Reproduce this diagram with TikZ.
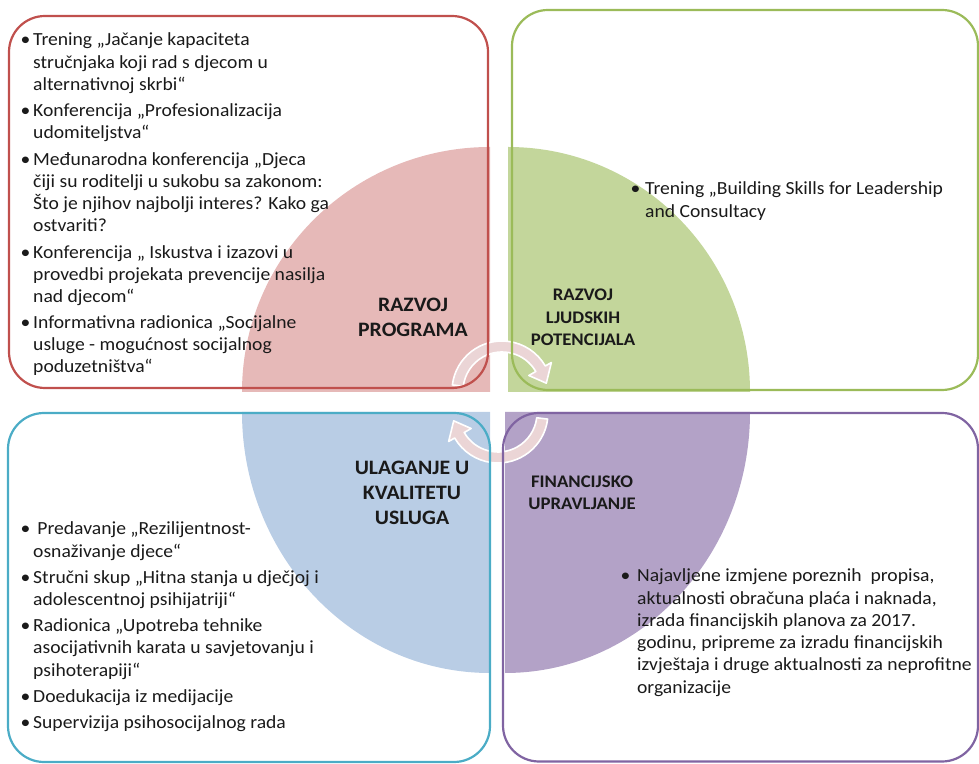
\documentclass[tikz,border=0pt]{standalone}
\usepackage{fontspec}
\usepackage{graphicx}
\setmainfont{Carlito}
\usetikzlibrary{calc}
\definecolor{redLine}{HTML}{C0504D}
\definecolor{greenLine}{HTML}{9BBB59}
\definecolor{blueLine}{HTML}{4BACC6}
\definecolor{purpleLine}{HTML}{8064A2}
\definecolor{redFill}{HTML}{E6B9B8}
\definecolor{greenFill}{HTML}{C3D69B}
\definecolor{blueFill}{HTML}{B9CDE5}
\definecolor{purpleFill}{HTML}{B3A2C7}
\definecolor{arrowFill}{HTML}{EBD5D6}
\definecolor{txt}{HTML}{1A1A1A}
\newlength\bulletw
\newcommand{\itm}{\makebox[\bulletw][l]{•}}
\newcommand{\wide}[1]{\scalebox{1.06}[1]{#1}}
\begin{document}
\begin{tikzpicture}[x=1pt,y=1pt,
  boxframe/.style={draw, line width=2.2pt, rounded corners=36pt, inner sep=0pt, outer sep=0pt},
  listtext/.style={anchor=base west, inner sep=0pt, text=txt, font=\fontsize{18.5}{22.1}\selectfont},
  headbig/.style={anchor=base, inner sep=0pt, text=txt, font=\bfseries\fontsize{20.5}{25}\selectfont},
  headsmall/.style={anchor=base, inner sep=0pt, text=txt, font=\bfseries\fontsize{17.7}{22.5}\selectfont},
  arrowband/.style={fill=arrowFill, draw=white, line width=1.6pt, line join=round},
  circarrow/.pic={\path[arrowband] (173:50) arc[start angle=173,end angle=30,radius=50] -- (30:57) -- (10:45) -- (30:31) -- (30:39) arc[start angle=30,end angle=173,radius=39] -- cycle;}
]
\useasboundingbox (0,0) rectangle (979,763);
% quarter segments
\fill[redFill] (490,371) -- (242,371) arc[start angle=180,end angle=90,x radius=248,y radius=245] -- cycle;
\fill[greenFill] (508,371) -- (750,371) arc[start angle=0,end angle=90,x radius=242,y radius=245] -- cycle;
\fill[blueFill] (490,351) -- (242,351) arc[start angle=180,end angle=270,x radius=248,y radius=261] -- cycle;
\fill[purpleFill] (505,351) -- (750,351) arc[start angle=0,end angle=-90,x radius=245,y radius=261] -- cycle;
% circular arrows
\pic (arrowUp) at (502,372) {circarrow};
\pic[rotate=180] (arrowDown) at (498,350) {circarrow};
% frames
\node[boxframe, draw=redLine, minimum width=479pt, minimum height=372pt] (boxA) at (248.5,561) {};
\node[boxframe, draw=greenLine, minimum width=466pt, minimum height=380pt] (boxB) at (745,563) {};
\node[boxframe, draw=blueLine, minimum width=482pt, minimum height=349pt] (boxC) at (249,175.5) {};
\node[boxframe, draw=purpleLine, minimum width=475pt, minimum height=348.5pt] (boxD) at (740.5,175.75) {};
% headings
\node[headbig] (headA) at (413,451) {\wide{\begin{tabular}[t]{@{}c@{}}RAZVOJ\\PROGRAMA\end{tabular}}};
\node[headsmall] (headB) at (583,462) {\wide{\begin{tabular}[t]{@{}c@{}}RAZVOJ\\LJUDSKIH\\POTENCIJALA\end{tabular}}};
\node[headbig] (headC) at (412,288) {\wide{\begin{tabular}[t]{@{}c@{}}ULAGANJE U\\KVALITETU\\USLUGA\end{tabular}}};
\node[headsmall, font=\bfseries\fontsize{17.7}{22}\selectfont] (headD) at (582,275) {\wide{\begin{tabular}[t]{@{}c@{}}FINANCIJSKO\\UPRAVLJANJE\end{tabular}}};
% lists
\node[listtext] (listA) at (20.5,717) {\setlength\bulletw{11.8pt}\wide{\begin{tabular}[t]{@{}l@{}l@{}}
\itm & Trening „Jačanje kapaciteta\\
 & stručnjaka koji rad s djecom u\\
 & alternativnoj skrbi“\\[4.4pt]
\itm & Konferencija „Profesionalizacija\\
 & udomiteljstva“\\[4.4pt]
\itm & Međunarodna konferencija „Djeca\\
 & čiji su roditelji u sukobu sa zakonom:\\
 & Što je njihov najbolji interes? Kako ga\\
 & ostvariti?\\[4.4pt]
\itm & Konferencija „ Iskustva i izazovi u\\
 & provedbi projekata prevencije nasilja\\
 & nad djecom“\\[4.4pt]
\itm & Informativna radionica „Socijalne\\
 & usluge - mogućnost socijalnog\\
 & poduzetništva“
\end{tabular}}};
\node[listtext] (listB) at (630.5,568) {\setlength\bulletw{13.7pt}\wide{\begin{tabular}[t]{@{}l@{}l@{}}
\itm & Trening „Building Skills for Leadership\\
 & and Consultacy
\end{tabular}}};
\node[listtext] (listC) at (20.5,228) {\setlength\bulletw{11.8pt}\wide{\begin{tabular}[t]{@{}l@{}l@{}}
\itm & \hspace{4pt}Predavanje „Rezilijentnost-\\
 & osnaživanje djece“\\[4.2pt]
\itm & Stručni skup „Hitna stanja u dječjoj i\\
 & adolescentnoj psihijatriji“\\[4.2pt]
\itm & Radionica „Upotreba tehnike\\
 & asocijativnih karata u savjetovanju i\\
 & psihoterapiji“\\[4.2pt]
\itm & Doedukacija iz medijacije\\[4.2pt]
\itm & Supervizija psihosocijalnog rada
\end{tabular}}};
\node[listtext, font=\fontsize{18.5}{22.2}\selectfont] (listD) at (620.5,181) {\setlength\bulletw{15.5pt}\wide{\begin{tabular}[t]{@{}l@{}l@{}}
\itm & Najavljene izmjene poreznih\ \ propisa,\\
 & aktualnosti obračuna plaća i naknada,\\
 & izrada financijskih planova za 2017.\\
 & godinu, pripreme za izradu financijskih\\
 & izvještaja i druge aktualnosti za neprofitne\\
 & organizacije
\end{tabular}}};
\end{tikzpicture}
\end{document}
